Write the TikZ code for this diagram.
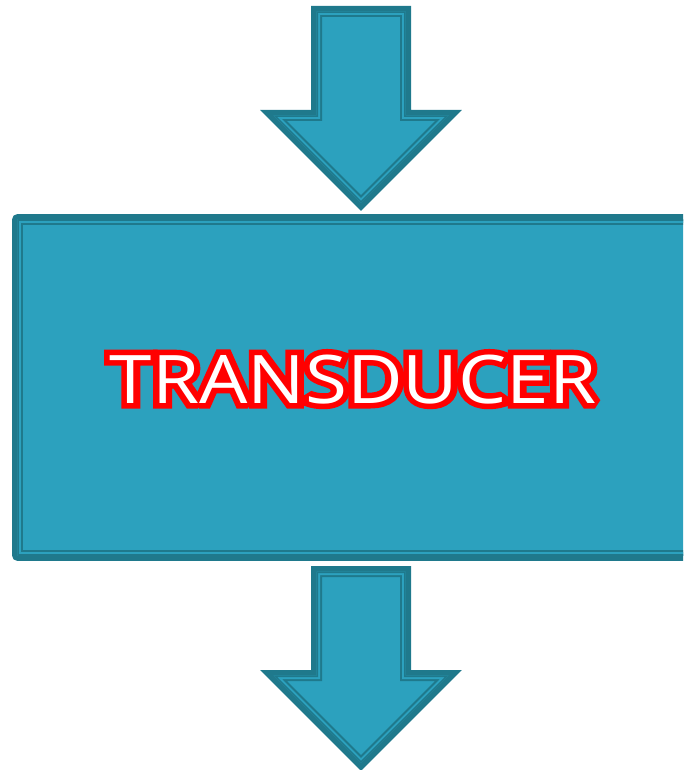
\documentclass[tikz,border=0pt]{standalone}
\usepackage{fontspec}
\setmainfont{Open Sans}
\definecolor{tfill}{RGB}{44,161,190}
\definecolor{tdark}{RGB}{31,121,140}
\newcommand\arrowshape{(-44.5,0) -- (44.5,0) -- (44.5,104) -- (87.5,104) -- (0,191.5) -- (-87.5,104) -- (-44.5,104) -- cycle}
\newcommand\boxshape{(17.5,219.5) -- (690,219.5) -- (690,555.5) -- (17.5,555.5) -- cycle}
\newcommand\labeltext{\scalebox{1.14}[1]{TRANSDUCER}}
\newcommand\strokedtext[1]{\special{pdf:literal 1 Tr 1 0 0 RG 11 w 0 j 1.5 M}#1\special{pdf:literal 0 Tr}}
\tikzset{
  outerline/.style={tdark, line width=11pt, line join=miter, miter limit=10},
  midline/.style={tfill, line width=7pt, line join=miter},
  innerline/.style={tdark, line width=3pt, line join=miter},
  labelfont/.style={font=\fontsize{67}{80}\selectfont, anchor=base, inner sep=0pt},
  bigarrow/.pic={
    \fill[tfill] \arrowshape;
    \draw[outerline] \arrowshape;
    \begin{scope}
      \clip \arrowshape;
      \draw[midline] \arrowshape;
      \draw[innerline] \arrowshape;
    \end{scope}
  }
}
\begin{document}
\begin{tikzpicture}[x=1pt, y=-1pt]
  \useasboundingbox (0,0) rectangle (683,770);
  \clip (0,0) rectangle (683,770);
  % arrows
  \pic (inarrow) at (361,11.5) {bigarrow};
  \pic (outarrow) at (361,571.5) {bigarrow};
  % box
  \fill[tfill] \boxshape;
  \draw[outerline, line join=round] \boxshape;
  \begin{scope}
    \clip \boxshape;
    \draw[midline] \boxshape;
    \draw[innerline] \boxshape;
  \end{scope}
  % outlined label: red stroke underneath, white fill on top
  \node[labelfont, text=red] (labeloutline) at (353,403) {\scalebox{1.14}[1]{\strokedtext{TRANSDUCER}}};
  \node[labelfont, text=white] (label) at (353,403) {\labeltext};
\end{tikzpicture}
\end{document}
